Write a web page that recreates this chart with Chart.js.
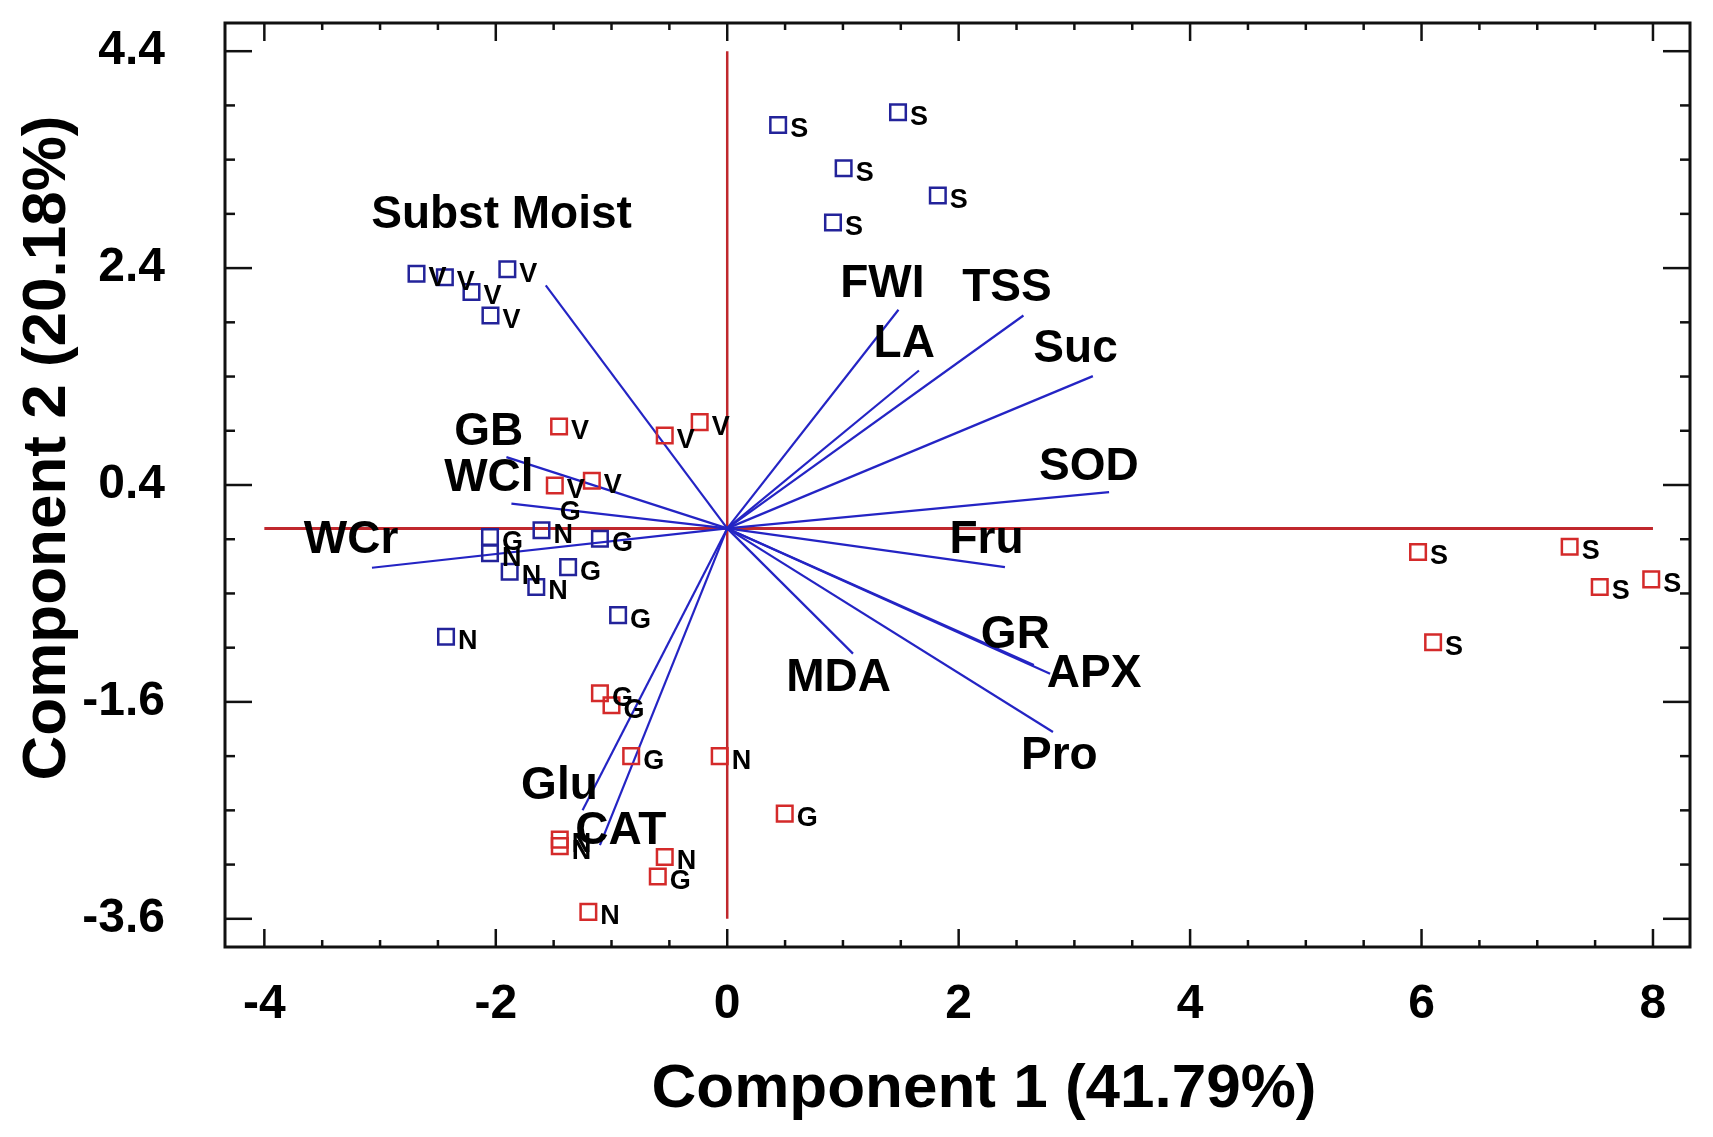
<!DOCTYPE html>
<html>
<head>
<meta charset="utf-8">
<script src="https://cdn.jsdelivr.net/npm/chart.js@4.4.1/dist/chart.umd.min.js"></script>
<style>
  html, body { margin: 0; padding: 0; background: #fff; }
</style>
</head>
<body>
<canvas id="pca" width="1713" height="1137"></canvas>
<script>
const xTicks = [-4, -2, 0, 2, 4, 6, 8];
const yTicks = [-3.6, -1.6, 0.4, 2.4, 4.4];

// sample scores, blue group
const blueX = [-2.685, -2.44, -2.21, -1.90, -2.046, 0.44, 1.476, 1.006, 1.82, 0.914,
               -2.05, -1.375, -1.10, -0.943, -2.05, -1.605, -1.88, -1.65, -2.43];
const blueY = [2.347, 2.316, 2.18, 2.39, 1.963, 3.72, 3.837, 3.32, 3.07, 2.82,
               -0.08, -0.357, -0.095, -0.80, -0.23, -0.018, -0.40, -0.54, -1.0];
const blueLab = ['V', 'V', 'V', 'V', 'V', 'S', 'S', 'S', 'S', 'S',
                 'G', 'G', 'G', 'G', 'N', 'N', 'N', 'N', 'N'];
// one blue G whose marker is covered in the original, only its letter shows
const hiddenX = [-1.55];
const hiddenY = [0.19];
const hiddenLab = ['G'];

// sample scores, red group
const redX = [-1.453, -0.54, -0.238, -1.49, -1.17, 5.97, 7.28, 7.54, 7.985, 6.10,
              -1.10, -1.0, -0.83, 0.497, -0.6, -0.065, -1.447, -1.447, -0.54, -1.20];
const redY = [0.94, 0.857, 0.98, 0.396, 0.44, -0.218, -0.17, -0.54, -0.47, -1.05,
              -1.52, -1.63, -2.10, -2.63, -3.21, -2.10, -2.87, -2.93, -3.03, -3.536];
const redLab = ['V', 'V', 'V', 'V', 'V', 'S', 'S', 'S', 'S', 'S',
                'G', 'G', 'G', 'G', 'G', 'N', 'N', 'N', 'N', 'N'];

// loadings
const varNames = ['Subst Moist', 'GB', 'WCl', 'WCr', 'Glu', 'CAT', 'FWI', 'LA',
                  'TSS', 'Suc', 'SOD', 'Fru', 'GR', 'APX', 'MDA', 'Pro'];
const varX = [-1.568, -1.908, -1.865, -3.07, -1.25, -1.10, 1.48, 1.657,
              2.56, 3.16, 3.30, 2.40, 2.65, 2.79, 1.087, 2.815];
const varY = [2.24, 0.657, 0.228, -0.363, -2.60, -2.92, 2.016, 1.456,
              1.963, 1.404, 0.335, -0.357, -1.26, -1.34, -1.155, -1.877];
const varLabelX = [-1.95, -2.06, -2.06, -3.25, -1.45, -0.92, 1.34, 1.53,
                   2.417, 3.01, 3.125, 2.24, 2.49, 3.17, 0.963, 2.87];
const varLabelY = [2.885, 0.89, 0.466, -0.108, -2.38, -2.79, 2.25, 1.695,
                   2.21, 1.654, 0.567, -0.108, -0.99, -1.346, -1.386, -2.10];

const font = 'Liberation Sans, Arial, sans-serif';
Chart.defaults.font.family = font;
Chart.defaults.color = '#000';

const pts = (xs, ys) => xs.map((v, i) => ({ x: v, y: ys[i] }));

const datasets = [
    {
        label: 'blue',
        data: pts(blueX, blueY),
        pointStyle: 'rect',
        pointRadius: 11,
        pointBorderWidth: 2.5,
        borderColor: '#23239a',
        backgroundColor: 'rgba(0,0,0,0)',
        showLine: false,
        order: 0,
    },
    {
        label: 'red',
        data: pts(redX, redY),
        pointStyle: 'rect',
        pointRadius: 11,
        pointBorderWidth: 2.5,
        borderColor: '#d42a2a',
        backgroundColor: 'rgba(0,0,0,0)',
        showLine: false,
        order: 0,
    },
];

varNames.forEach((name, i) => {
    datasets.push({
        label: name,
        data: [{ x: 0, y: 0 }, { x: varX[i], y: varY[i] }],
        showLine: true,
        borderColor: '#2424c4',
        borderWidth: 2.2,
        pointRadius: 0,
        order: 1,
    });
});

datasets.push(
    {
        label: 'h0',
        data: [{ x: xTicks[0], y: 0 }, { x: xTicks[xTicks.length - 1], y: 0 }],
        showLine: true,
        borderColor: '#c0282d',
        borderWidth: 3,
        pointRadius: 0,
        order: 2,
    },
    {
        label: 'v0',
        data: [{ x: 0, y: yTicks[0] }, { x: 0, y: yTicks[yTicks.length - 1] }],
        showLine: true,
        borderColor: '#c0282d',
        borderWidth: 2.5,
        pointRadius: 0,
        order: 2,
    }
);

const decor = {
    id: 'decor',
    afterDatasetsDraw(chart) {
        const { ctx, scales: { x, y } } = chart;
        ctx.save();
        ctx.fillStyle = '#000';
        ctx.textBaseline = 'middle';

        // letters next to sample markers
        ctx.font = 'bold 27px ' + font;
        ctx.textAlign = 'left';
        const letters = (xs, ys, labs) => xs.forEach((v, i) => {
            ctx.fillText(labs[i], x.getPixelForValue(v) + 12, y.getPixelForValue(ys[i]) + 5);
        });
        letters(blueX, blueY, blueLab);
        letters(redX, redY, redLab);
        letters(hiddenX, hiddenY, hiddenLab);

        // variable names
        ctx.font = 'bold 46px ' + font;
        ctx.textAlign = 'center';
        varNames.forEach((name, i) => {
            ctx.fillText(name, x.getPixelForValue(varLabelX[i]), y.getPixelForValue(varLabelY[i]));
        });
        ctx.restore();
    },
    afterDraw(chart) {
        const { ctx, chartArea: a, scales: { x, y } } = chart;
        ctx.save();
        ctx.strokeStyle = '#111';
        ctx.lineWidth = 3;
        ctx.strokeRect(a.left, a.top, a.right - a.left, a.bottom - a.top);

        const seg = (x1, y1, x2, y2) => {
            ctx.beginPath();
            ctx.moveTo(x1, y1);
            ctx.lineTo(x2, y2);
            ctx.stroke();
        };
        ctx.lineWidth = 2.5;
        // ticks every 0.5, labelled ones longer
        for (let i = 0; i <= 24; i++) {
            const px = x.getPixelForValue(xTicks[0] + 0.5 * i);
            const len = i % 4 === 0 ? 18 : 7;
            seg(px, a.bottom, px, a.bottom - len);
            seg(px, a.top, px, a.top + len);
        }
        for (let i = 0; i <= 16; i++) {
            const py = y.getPixelForValue(yTicks[0] + 0.5 * i);
            const len = i % 4 === 0 ? 27 : 10;
            seg(a.left, py, a.left + len, py);
            seg(a.right, py, a.right - len, py);
        }

        // axis titles
        ctx.fillStyle = '#000';
        ctx.font = 'bold 62px ' + font;
        ctx.textAlign = 'center';
        ctx.textBaseline = 'middle';
        ctx.fillText('Component 1 (41.79%)', 984, 1090);
        ctx.translate(48, 448);
        ctx.rotate(-Math.PI / 2);
        ctx.fillText('Component 2 (20.18%)', 0, 0);
        ctx.restore();
    },
};

new Chart(document.getElementById('pca'), {
    type: 'scatter',
    data: { datasets },
    options: {
        responsive: false,
        animation: false,
        devicePixelRatio: 1,
        layout: { padding: { top: 23, right: 23, left: 0, bottom: 0 } },
        plugins: { legend: { display: false }, tooltip: { enabled: false } },
        scales: {
            x: {
                min: -4.34,
                max: 8.32,
                grid: { display: false },
                border: { display: false },
                afterBuildTicks: (s) => { s.ticks = xTicks.map((v) => ({ value: v })); },
                afterFit: (s) => {
                    s.height = 190;
                    s.paddingLeft = 0;
                    s.paddingRight = 0;
                },
                ticks: {
                    padding: 21,
                    maxRotation: 0,
                    font: { size: 48, weight: 'bold' },
                    callback: (v) => String(v),
                },
            },
            y: {
                min: -3.86,
                max: 4.66,
                grid: { display: false },
                border: { display: false },
                afterBuildTicks: (s) => { s.ticks = yTicks.map((v) => ({ value: v })); },
                afterFit: (s) => {
                    s.width = 225;
                    s.paddingTop = 0;
                    s.paddingBottom = 0;
                },
                ticks: {
                    padding: 52,
                    font: { size: 48, weight: 'bold' },
                    callback: (v) => Number(v).toFixed(1),
                },
            },
        },
    },
    plugins: [decor],
});
</script>
</body>
</html>
